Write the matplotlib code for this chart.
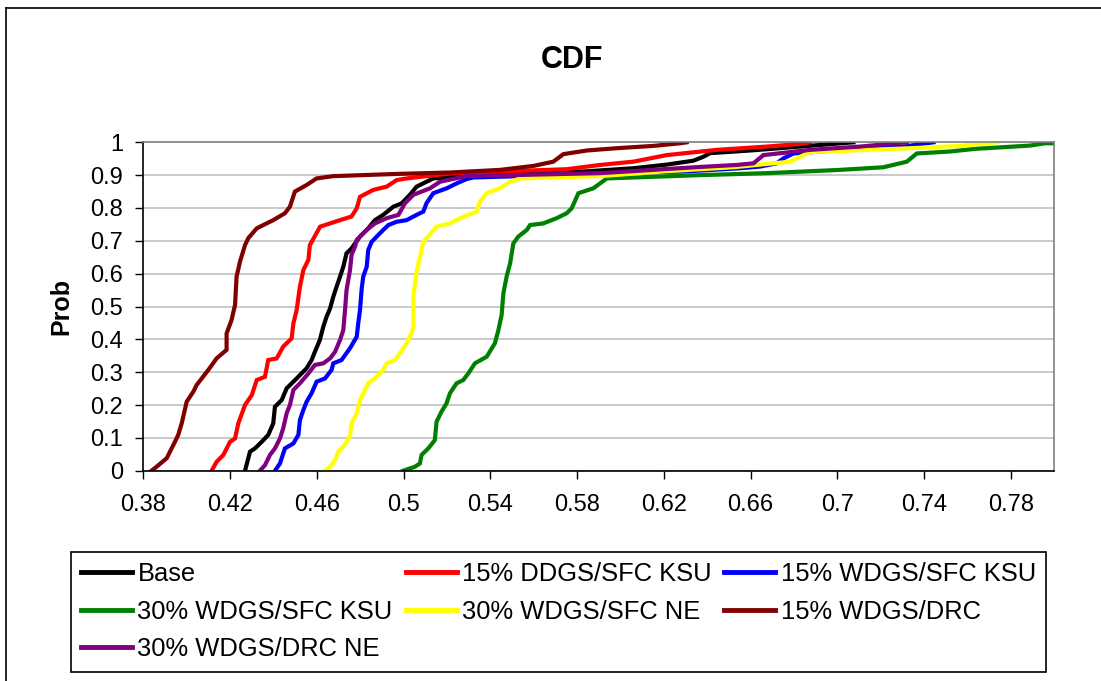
"""
plot.py -- CDF der Szenarien (Excel-Nachbau), speichert out.png.

Werte sind aus dem Referenzbild abgelesen: je Kurve eine Liste x-Werte
und die zugehoerigen kumulierten Wahrscheinlichkeiten.
"""

import matplotlib

matplotlib.use("Agg")
import matplotlib.pyplot as plt
from matplotlib.lines import Line2D

plt.rcParams["font.family"] = ["Liberation Sans", "DejaVu Sans"]

# -----------------------------------------------------------------------------
# Daten
# -----------------------------------------------------------------------------
BASE_X = [0.4269, 0.4292, 0.4315, 0.4346, 0.4376, 0.4399, 0.4407, 0.4438, 0.4461,
          0.4492, 0.4522, 0.4553, 0.4576, 0.4591, 0.4614, 0.4630, 0.4645, 0.4661,
          0.4676, 0.4691, 0.4707, 0.4722, 0.4737, 0.4760, 0.4799, 0.4837, 0.4868,
          0.4906, 0.4953, 0.4991, 0.5029, 0.5060, 0.5106, 0.5137, 0.5444, 0.5828,
          0.6059, 0.6213, 0.6336, 0.6382, 0.6413, 0.6597, 0.6828, 0.7074]
BASE_P = [0.000, 0.058, 0.068, 0.088, 0.109, 0.144, 0.195, 0.215, 0.251,
          0.271, 0.291, 0.312, 0.337, 0.362, 0.398, 0.439, 0.469, 0.494,
          0.530, 0.560, 0.591, 0.621, 0.662, 0.677, 0.713, 0.738, 0.763,
          0.779, 0.804, 0.814, 0.840, 0.865, 0.880, 0.890, 0.906, 0.911,
          0.921, 0.932, 0.944, 0.956, 0.967, 0.975, 0.987, 1.000]

DDGS15_X = [0.4115, 0.4138, 0.4169, 0.4200, 0.4223, 0.4238, 0.4269, 0.4300, 0.4323,
            0.4361, 0.4376, 0.4415, 0.4445, 0.4484, 0.4492, 0.4507, 0.4522, 0.4538,
            0.4561, 0.4568, 0.4615, 0.4661, 0.4707, 0.4760, 0.4784, 0.4799, 0.4860,
            0.4922, 0.4968, 0.5014, 0.5214, 0.5444, 0.5751, 0.5905, 0.6059, 0.6136,
            0.6213, 0.6444, 0.6675, 0.6828, 0.6874]
DDGS15_P = [0.000, 0.027, 0.048, 0.088, 0.098, 0.144, 0.200, 0.230, 0.276,
            0.286, 0.337, 0.342, 0.378, 0.403, 0.449, 0.489, 0.560, 0.611,
            0.642, 0.687, 0.743, 0.753, 0.763, 0.774, 0.799, 0.834, 0.855,
            0.865, 0.885, 0.890, 0.905, 0.911, 0.918, 0.931, 0.941, 0.951,
            0.961, 0.977, 0.987, 0.995, 1.000]

WDGS15_X = [0.4407, 0.4430, 0.4453, 0.4492, 0.4515, 0.4522, 0.4538, 0.4553, 0.4576,
            0.4599, 0.4638, 0.4668, 0.4676, 0.4714, 0.4753, 0.4784, 0.4791, 0.4799,
            0.4807, 0.4814, 0.4830, 0.4837, 0.4853, 0.4876, 0.4906, 0.4930, 0.4968,
            0.5014, 0.5060, 0.5091, 0.5106, 0.5137, 0.5199, 0.5245, 0.5290, 0.5322,
            0.5600, 0.5905, 0.6290, 0.6551, 0.6643, 0.6720, 0.6751, 0.6797, 0.7028,
            0.7305, 0.7443]
WDGS15_P = [0.000, 0.022, 0.068, 0.083, 0.109, 0.154, 0.185, 0.210, 0.236,
            0.271, 0.281, 0.307, 0.327, 0.337, 0.373, 0.408, 0.449, 0.489,
            0.555, 0.591, 0.621, 0.672, 0.697, 0.713, 0.733, 0.748, 0.758,
            0.763, 0.779, 0.789, 0.815, 0.845, 0.860, 0.875, 0.888, 0.893,
            0.898, 0.905, 0.911, 0.921, 0.926, 0.936, 0.951, 0.966, 0.977,
            0.987, 1.000]

WDGS30_KSU_X = [0.4998, 0.5052, 0.5075, 0.5083, 0.5114, 0.5144, 0.5152, 0.5175, 0.5198,
                0.5214, 0.5244, 0.5275, 0.5298, 0.5329, 0.5383, 0.5421, 0.5437, 0.5452,
                0.5460, 0.5475, 0.5491, 0.5506, 0.5529, 0.5568, 0.5583, 0.5644, 0.5706,
                0.5752, 0.5775, 0.5806, 0.5875, 0.5906, 0.5937, 0.6367, 0.6674, 0.7012,
                0.7212, 0.7320, 0.7366, 0.7519, 0.7634, 0.7888, 0.7957, 0.8000]
WDGS30_KSU_P = [0.000, 0.012, 0.022, 0.048, 0.068, 0.093, 0.149, 0.180, 0.205,
                0.236, 0.266, 0.276, 0.296, 0.327, 0.347, 0.388, 0.428, 0.474,
                0.540, 0.591, 0.631, 0.692, 0.713, 0.733, 0.748, 0.753, 0.769,
                0.784, 0.799, 0.845, 0.860, 0.875, 0.890, 0.900, 0.906, 0.916,
                0.924, 0.941, 0.966, 0.972, 0.980, 0.990, 0.997, 0.997]

WDGS30_NE_X = [0.4638, 0.4661, 0.4684, 0.4699, 0.4722, 0.4753, 0.4760, 0.4784, 0.4799,
               0.4822, 0.4837, 0.4876, 0.4906, 0.4922, 0.4960, 0.4983, 0.5014, 0.5037,
               0.5045, 0.5045, 0.5053, 0.5060, 0.5076, 0.5091, 0.5106, 0.5152, 0.5214,
               0.5260, 0.5337, 0.5352, 0.5383, 0.5444, 0.5490, 0.5537, 0.5905, 0.6213,
               0.6520, 0.6674, 0.6782, 0.6828, 0.6874, 0.7336, 0.7566, 0.7735]
WDGS30_NE_P = [0.000, 0.012, 0.032, 0.058, 0.073, 0.104, 0.144, 0.175, 0.215,
               0.246, 0.266, 0.286, 0.307, 0.327, 0.337, 0.357, 0.388, 0.418,
               0.439, 0.530, 0.571, 0.606, 0.652, 0.697, 0.708, 0.743, 0.753,
               0.769, 0.789, 0.819, 0.845, 0.860, 0.880, 0.890, 0.897, 0.912,
               0.924, 0.934, 0.941, 0.956, 0.970, 0.982, 0.989, 1.000]

DRC15_X = [0.3838, 0.3861, 0.3908, 0.3923, 0.3946, 0.3961, 0.3977, 0.4000, 0.4031,
           0.4046, 0.4100, 0.4138, 0.4184, 0.4184, 0.4207, 0.4223, 0.4230, 0.4246,
           0.4269, 0.4284, 0.4323, 0.4399, 0.4453, 0.4476, 0.4499, 0.4553, 0.4599,
           0.4676, 0.4983, 0.5214, 0.5444, 0.5598, 0.5690, 0.5737, 0.5844, 0.5982,
           0.6151, 0.6274, 0.6305]
DRC15_P = [0.000, 0.012, 0.038, 0.058, 0.088, 0.109, 0.144, 0.210, 0.241,
           0.261, 0.307, 0.342, 0.368, 0.418, 0.459, 0.505, 0.591, 0.637,
           0.687, 0.708, 0.738, 0.763, 0.784, 0.804, 0.850, 0.870, 0.890,
           0.897, 0.904, 0.908, 0.916, 0.928, 0.941, 0.964, 0.975, 0.982,
           0.989, 0.997, 1.000]

DRC30_NE_X = [0.4338, 0.4361, 0.4384, 0.4407, 0.4430, 0.4445, 0.4461, 0.4476, 0.4492,
              0.4522, 0.4561, 0.4591, 0.4630, 0.4661, 0.4684, 0.4707, 0.4722, 0.4730,
              0.4737, 0.4753, 0.4760, 0.4776, 0.4784, 0.4830, 0.4868, 0.4922, 0.4976,
              0.5006, 0.5045, 0.5122, 0.5168, 0.5290, 0.5905, 0.6367, 0.6536, 0.6613,
              0.6659, 0.6875, 0.7105, 0.7320]
DRC30_NE_P = [0.000, 0.017, 0.048, 0.068, 0.098, 0.129, 0.175, 0.200, 0.246,
              0.266, 0.296, 0.322, 0.327, 0.342, 0.362, 0.398, 0.428, 0.489,
              0.550, 0.611, 0.657, 0.682, 0.703, 0.733, 0.753, 0.769, 0.779,
              0.814, 0.840, 0.860, 0.880, 0.897, 0.906, 0.925, 0.931, 0.936,
              0.961, 0.977, 0.987, 1.000]

SERIES_NAMES = ["Base", "15% DDGS/SFC KSU", "15% WDGS/SFC KSU", "30% WDGS/SFC KSU",
                "30% WDGS/SFC NE", "15% WDGS/DRC", "30% WDGS/DRC NE"]

X_TICKS = [0.38, 0.42, 0.46, 0.50, 0.54, 0.58, 0.62, 0.66, 0.70, 0.74, 0.78]
X_TICK_LABELS = ["0.38", "0.42", "0.46", "0.5", "0.54", "0.58", "0.62", "0.66",
                 "0.7", "0.74", "0.78"]
Y_TICKS = [0.0, 0.1, 0.2, 0.3, 0.4, 0.5, 0.6, 0.7, 0.8, 0.9, 1.0]
Y_TICK_LABELS = ["0", "0.1", "0.2", "0.3", "0.4", "0.5", "0.6", "0.7", "0.8", "0.9", "1"]

# Excel-Standardfarben, Reihenfolge wie SERIES_NAMES
COLORS = ["#000000", "#ff0000", "#0000ff", "#008000", "#ffff00", "#800000", "#800080"]

W_PX, H_PX = 1101, 681


def px_x(x):
    return x / W_PX


def px_y(y):
    return 1 - y / H_PX


def main():
    series = [
        (BASE_X, BASE_P),
        (DDGS15_X, DDGS15_P),
        (WDGS15_X, WDGS15_P),
        (WDGS30_KSU_X, WDGS30_KSU_P),
        (WDGS30_NE_X, WDGS30_NE_P),
        (DRC15_X, DRC15_P),
        (DRC30_NE_X, DRC30_NE_P),
    ]

    fig = plt.figure(figsize=(W_PX / 100, H_PX / 100), dpi=100)
    # Plotflaeche: x 143..1054 px, y 142..471 px
    ax = fig.add_axes([px_x(143.3), px_y(470.7), (1054.3 - 143.3) / W_PX,
                       (470.7 - 142.3) / H_PX])

    handles = []
    for (xs, ps), name, col in zip(series, SERIES_NAMES, COLORS):
        (ln,) = ax.plot(xs, ps, color=col, lw=3.0, label=name,
                        solid_joinstyle="miter", clip_on=True)
        handles.append(ln)

    ax.set_xlim(0.38, 0.80)
    ax.set_ylim(0, 1)
    ax.set_xticks(X_TICKS)
    ax.set_xticklabels(X_TICK_LABELS)
    ax.set_yticks(Y_TICKS)
    ax.set_yticklabels(Y_TICK_LABELS)
    ax.tick_params(axis="both", direction="out", length=5.5, width=1.0,
                   labelsize=17, color="black")
    ax.tick_params(axis="x", pad=11)
    ax.tick_params(axis="y", pad=9)

    ax.yaxis.grid(True, color="#c0c0c0", lw=1.2)
    ax.set_axisbelow(True)
    for side in ("left", "bottom"):
        ax.spines[side].set_color("black")
        ax.spines[side].set_linewidth(1.2)
    for side in ("top", "right"):
        ax.spines[side].set_color("#808080")
        ax.spines[side].set_linewidth(1.2)

    ax.set_ylabel("Prob", fontsize=18, fontweight="bold")
    ax.yaxis.set_label_coords(-0.077, 0.5)

    fig.text(px_x(572), px_y(60), "CDF", ha="center", va="center",
             fontsize=22, fontweight="bold")

    # Legende zeilenweise wie in Excel -> Spaltenreihenfolge umsortieren
    order = [0, 3, 6, 1, 4, 2, 5]
    fig.legend([handles[i] for i in order], [SERIES_NAMES[i] for i in order],
               ncol=3, loc="upper left", mode="expand",
               bbox_to_anchor=(px_x(71), px_y(673), (1046 - 71) / W_PX,
                               (673 - 552) / H_PX),
               borderaxespad=0, fontsize=18.4, handlelength=2.0,
               handletextpad=0.2, labelspacing=0.53, borderpad=0.4,
               frameon=True, fancybox=False, framealpha=1, edgecolor="black")
    leg = fig.legends[0]
    leg.get_frame().set_linewidth(1.2)
    for h in leg.legend_handles:
        h.set_linewidth(3.5)

    # Rahmen der Diagrammflaeche (rechts/unten abgeschnitten)
    fig.add_artist(Line2D([px_x(6), px_x(6)], [px_y(8), 0], color="black", lw=1.2))
    fig.add_artist(Line2D([px_x(6), 1], [px_y(8), px_y(8)], color="black", lw=1.2))

    fig.savefig("out.png", dpi=100)
    plt.close(fig)


if __name__ == "__main__":
    main()
